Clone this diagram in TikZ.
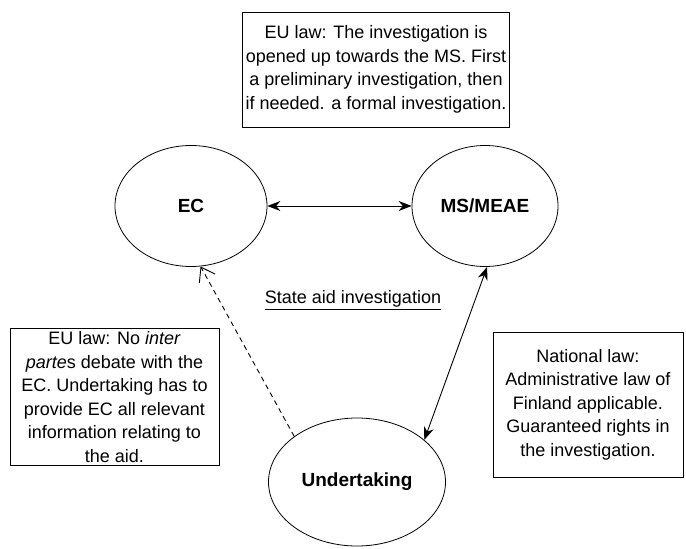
\documentclass[tikz,border=0pt]{standalone}
\usepackage{fontspec}
\setmainfont{Liberation Sans}
\usetikzlibrary{arrows.meta,shapes.geometric}
\begin{document}
\begin{tikzpicture}[x=1pt,y=1pt,
  every node/.style={font=\fontsize{18}{23.5}\selectfont},
  txtbox/.style={draw, line width=0.9pt, align=center, inner sep=3pt},
  actor/.style={draw, ellipse, line width=0.8pt, font=\fontsize{19}{22}\selectfont\bfseries},
  conn/.style={line width=0.9pt},
  solidtip/.style={{Stealth[length=13pt,width=10pt]}-{Stealth[length=13pt,width=10pt]}},
  opentip/.style={-{Straight Barb[length=13pt,width=18pt]}}
]
\useasboundingbox (0,0) rectangle (686,-549);
\fill[white] (0,0) rectangle (686,-549);

\node[txtbox, minimum width=252pt, minimum height=115pt] (top) at (376,-69.5)
  {EU law: The investigation is\\ opened up towards the MS. First\\ a preliminary investigation, then\\ if needed. a formal investigation.};

\node[actor, minimum width=152pt, minimum height=121pt] (ec) at (191,-206) {EC};
\node[actor, minimum width=146pt, minimum height=121pt] (ms) at (485,-206) {MS/MEAE};
\node[actor, minimum width=177pt, minimum height=128pt] (und) at (357,-482) {Undertaking};

\node[font=\fontsize{18}{22}\selectfont] (lbl) at (353,-300) {\underline{State aid investigation}};

\node[txtbox, minimum width=209pt, minimum height=131pt] (left) at (114.5,-397)
  {EU law: No \textit{inter}\\ \textit{parte}s debate with the\\ EC. Undertaking has to\\ provide EC all relevant\\ information relating to\\ the aid.};

\node[txtbox, minimum width=190pt, minimum height=145pt] (right) at (588,-404.5)
  {National law:\\ Administrative law of\\ Finland applicable.\\ Guaranteed rights in\\ the investigation.};

\draw[conn, solidtip] (ec.east) -- (ms.west);
\draw[conn, solidtip] (und.32) -- (ms.-88);
\draw[conn, dashed, dash pattern=on 5pt off 4pt, opentip] (und.144) -- (ec.-81);
\end{tikzpicture}
\end{document}
